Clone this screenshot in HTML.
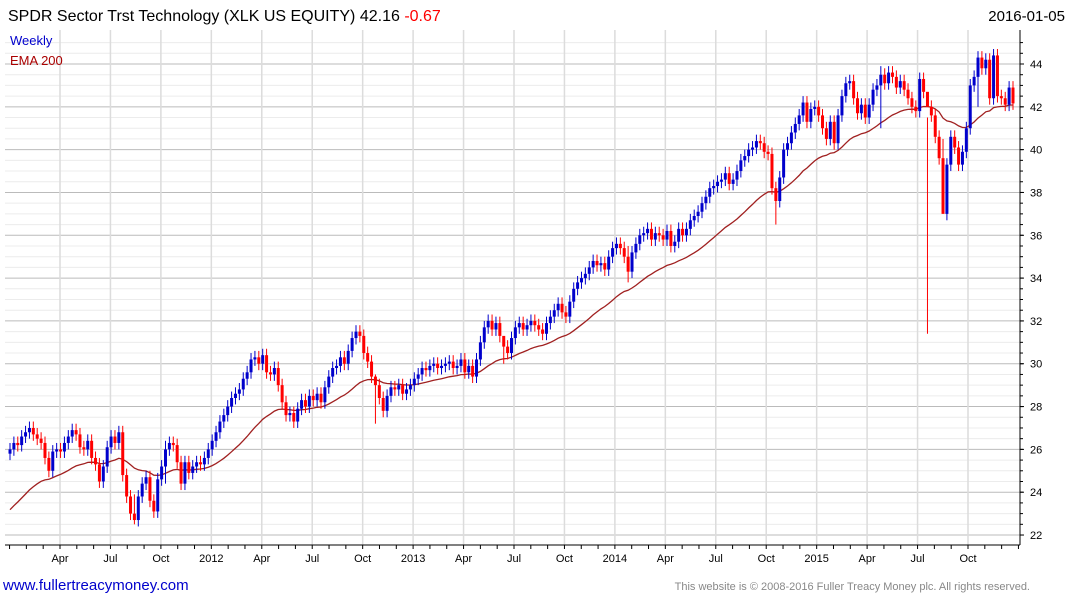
<!DOCTYPE html>
<html><head><meta charset="utf-8"><style>
body{margin:0;background:#fff;font-family:"Liberation Sans",sans-serif}
svg text{font-family:"Liberation Sans",sans-serif}
</style></head><body>
<svg id="c" width="1075" height="600">
<text x="8" y="21" font-size="16" fill="#000">SPDR Sector Trst Technology (XLK US EQUITY) 42.16 <tspan fill="#f00">-0.67</tspan></text>
<text x="1065" y="21" font-size="15" text-anchor="end" fill="#000">2016-01-05</text>
<g id="grid"></g><g id="ema"></g><g id="candles"></g><g id="axes"></g>
<text x="10" y="45" font-size="13" fill="#00c">Weekly</text>
<text x="10" y="65" font-size="13" fill="#a00">EMA 200</text>
<text x="3" y="590" font-size="15" fill="#00c">www.fullertreacymoney.com</text>
<text x="1030" y="590" font-size="11" text-anchor="end" fill="#888">This website is © 2008-2016 Fuller Treacy Money plc. All rights reserved.</text>
</svg>
<script>
const closes=[26.0,26.3,26.2,26.6,26.8,27.0,26.7,26.5,26.3,25.6,25.0,25.9,26.0,25.9,26.3,26.6,26.9,26.7,26.1,26.0,26.4,25.6,25.3,24.5,25.2,26.1,26.6,26.3,26.8,24.8,23.8,23.0,22.7,23.8,24.4,24.7,23.6,23.1,24.6,25.2,26.0,26.3,26.2,25.4,24.4,25.4,24.9,25.2,25.4,25.3,25.6,26.0,
26.4,26.8,27.3,27.6,28.0,28.4,28.6,28.8,29.3,29.6,30.2,30.3,30.0,30.4,29.6,29.5,29.8,29.0,28.2,27.6,27.7,27.3,27.9,28.3,28.0,28.5,28.3,28.6,28.2,28.9,29.4,29.8,29.9,30.3,30.0,30.6,31.2,31.5,31.3,30.5,30.1,29.4,29.0,28.4,27.8,28.5,28.9,28.8,29.0,28.6,28.8,29.0,
29.3,29.5,29.8,29.7,29.9,30.0,29.8,29.9,30.0,30.1,29.8,29.9,30.2,29.6,29.9,29.4,30.2,31.0,31.7,32.0,31.6,31.9,31.3,30.8,30.5,31.2,31.7,31.9,31.6,31.8,32.0,31.8,31.6,31.4,31.9,32.2,32.5,32.8,32.4,32.2,32.9,33.5,33.8,34.0,34.2,34.5,34.8,34.6,34.7,34.4,35.0,35.4,
35.6,35.4,35.0,34.3,35.2,35.6,36.0,36.1,36.3,35.8,36.1,36.0,35.8,36.2,35.5,35.7,36.3,36.0,36.3,36.7,36.9,37.1,37.5,37.8,38.2,38.3,38.5,38.6,38.9,38.4,38.6,39.0,39.5,39.7,40.0,40.1,40.4,40.3,39.9,39.8,38.2,37.6,38.7,40.0,40.3,40.8,41.2,41.6,42.2,41.3,41.9,42.0,
41.6,41.0,40.5,41.3,40.3,41.6,42.5,43.1,43.2,42.4,41.7,42.1,41.5,42.1,42.8,43.0,43.5,43.1,43.6,43.4,42.9,43.2,42.8,42.4,42.0,41.8,43.3,42.7,42.0,41.6,40.6,39.6,37.0,39.3,40.6,40.1,39.3,39.9,41.0,43.0,43.4,44.3,43.8,44.2,42.4,44.4,42.5,42.4,42.1,42.9,42.16];
const firstOpen=25.8;
const wickOverrides={32:[23.9,22.5],40:[26.4,24.4],94:[29.5,27.2],127:[31.2,30.0],159:[35.5,33.8],197:[38.5,36.5],224:[43.9,41.0],236:[41.5,31.4],240:[40.5,38.4],249:[44.6,42.0]};
const yTicks=[22,24,26,28,30,32,34,36,38,40,42,44];
const xTickLabels=["Apr","Jul","Oct","2012","Apr","Jul","Oct","2013","Apr","Jul","Oct","2014","Apr","Jul","Oct","2015","Apr","Jul","Oct"];
const emaSeed=23.0;

const NS="http://www.w3.org/2000/svg";
const L=5,R=1020,T=30,B=545;
function y(p){return 64+(44-p)*21.41;}
const n=closes.length;
function x(i){return 10+i*(1013-10)/(n-1);}
function mk(t,a,parent){const e=document.createElementNS(NS,t);for(const k in a)e.setAttribute(k,a[k]);parent.appendChild(e);return e;}
const grid=document.getElementById('grid'),ax=document.getElementById('axes'),cg=document.getElementById('candles'),eg=document.getElementById('ema');
for(let p=21.5;p<=45;p+=0.5){const yy=y(p);if(yy<T||yy>B)continue;const major=Math.abs(p-Math.round(p/2)*2)<1e-6;
const g=mk('line',{x1:L,x2:R,y1:yy,y2:yy,stroke:major?'#bbb':'#ececec','stroke-width':1},grid);

}
const q0=60, qStep=(968-60)/18;
xTickLabels.forEach((lab,k)=>{const xx=q0+k*qStep;
const g=mk('line',{x1:xx,x2:xx,y1:T,y2:B,stroke:'#dcdcdc','stroke-width':1.5},grid);


const t=mk('text',{x:xx,y:562,'font-size':11,'text-anchor':'middle',fill:'#000'},ax);t.textContent=lab;

});
for(let m=0;m<=60;m++){const xx=q0+(m-3)*qStep/3;if(xx<L||xx>R)continue;mk('line',{x1:xx,x2:xx,y1:B,y2:B+4,stroke:'#000'},ax);}
mk('line',{x1:L,x2:R,y1:B,y2:B,stroke:'#000'},ax);
mk('line',{x1:R,x2:R,y1:T,y2:B,stroke:'#000'},ax);
yTicks.forEach(p=>{const yy=y(p);const t=mk('text',{x:1030,y:yy+4,'font-size':11,fill:'#000'},ax);t.textContent=p;


mk('line',{x1:R,x2:R+4,y1:yy,y2:yy,stroke:'#000'},ax);});
for(let p=21.5;p<=45;p+=0.5){const yy=y(p);if(yy<T||yy>B)continue;mk('line',{x1:R,x2:R+3,y1:yy,y2:yy,stroke:'#000'},ax);}
let e=emaSeed;const a=2/33;let pts=[];
closes.forEach((c,i)=>{e=e+a*(c-e);pts.push(x(i).toFixed(1)+','+y(e).toFixed(1));});
const pl=mk('polyline',{points:pts.join(' '),fill:'none',stroke:'#a02020','stroke-width':1.3},eg);


closes.forEach((c,i)=>{const o=i?closes[i-1]:firstOpen;const up=c>=o;const col=up?'#0000cc':'#ff0000';
let hi=Math.max(o,c)+0.3,lo=Math.min(o,c)-0.3;if(wickOverrides[i]){hi=wickOverrides[i][0];lo=wickOverrides[i][1];}
const xx=x(i);
const w=mk('line',{x1:xx,x2:xx,y1:y(hi),y2:y(lo),stroke:col,'stroke-width':1},cg);


const top=y(Math.max(o,c)),h=Math.max(1.5,y(Math.min(o,c))-top);
const r=mk('rect',{x:xx-1.5,y:top,width:3,height:h,fill:col},cg);

});
</script>
</body></html>
